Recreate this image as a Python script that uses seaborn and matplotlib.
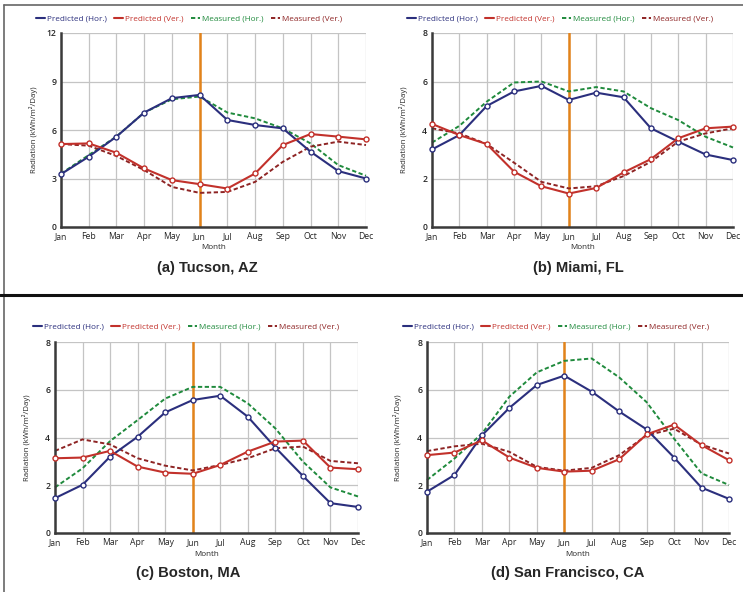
import numpy as np
import pandas as pd
import matplotlib
matplotlib.use("Agg")
import matplotlib.pyplot as plt
from matplotlib.lines import Line2D
import seaborn as sns

months = ["Jan", "Feb", "Mar", "Apr", "May", "Jun", "Jul", "Aug", "Sep", "Oct", "Nov", "Dec"]
series_names = ["Predicted (Hor.)", "Predicted (Ver.)", "Measured (Hor.)", "Measured (Ver.)"]

# (a) Tucson, AZ
tucson_pred_hor = [3.27, 4.35, 5.59, 7.08, 7.97, 8.17, 6.62, 6.31, 6.10, 4.66, 3.46, 3.00]
tucson_pred_ver = [5.13, 5.17, 4.59, 3.62, 2.90, 2.65, 2.38, 3.31, 5.07, 5.75, 5.59, 5.42]
tucson_meas_hor = [3.30, 4.45, 5.60, 7.08, 7.90, 8.07, 7.08, 6.72, 6.10, 5.17, 3.83, 3.17]
tucson_meas_ver = [5.13, 5.03, 4.39, 3.52, 2.48, 2.11, 2.17, 2.79, 4.03, 4.97, 5.28, 5.07]

# (b) Miami, FL
miami_pred_hor = [3.20, 3.79, 4.99, 5.59, 5.82, 5.24, 5.54, 5.35, 4.07, 3.52, 2.99, 2.76]
miami_pred_ver = [4.25, 3.79, 3.42, 2.28, 1.68, 1.38, 1.61, 2.25, 2.80, 3.66, 4.07, 4.14]
miami_meas_hor = [3.48, 4.17, 5.17, 5.96, 6.00, 5.59, 5.77, 5.59, 4.90, 4.41, 3.72, 3.28]
miami_meas_ver = [4.07, 3.86, 3.42, 2.65, 1.86, 1.59, 1.68, 2.10, 2.69, 3.52, 3.86, 4.07]

# (c) Boston, MA
boston_pred_hor = [1.46, 2.02, 3.20, 4.03, 5.05, 5.57, 5.75, 4.87, 3.58, 2.39, 1.25, 1.09]
boston_pred_ver = [3.13, 3.16, 3.44, 2.78, 2.53, 2.48, 2.85, 3.41, 3.83, 3.87, 2.74, 2.67]
boston_meas_hor = [1.91, 2.71, 3.85, 4.73, 5.63, 6.12, 6.12, 5.43, 4.38, 2.99, 1.91, 1.53]
boston_meas_ver = [3.44, 3.92, 3.71, 3.13, 2.82, 2.62, 2.85, 3.13, 3.55, 3.62, 3.02, 2.92]

# (d) San Francisco, CA
sf_pred_hor = [1.73, 2.43, 4.09, 5.24, 6.20, 6.59, 5.92, 5.09, 4.34, 3.16, 1.90, 1.43]
sf_pred_ver = [3.26, 3.37, 3.88, 3.16, 2.73, 2.57, 2.61, 3.09, 4.13, 4.54, 3.68, 3.05]
sf_meas_hor = [2.22, 3.12, 4.16, 5.71, 6.73, 7.21, 7.31, 6.52, 5.48, 3.95, 2.50, 2.01]
sf_meas_ver = [3.43, 3.63, 3.74, 3.40, 2.77, 2.61, 2.73, 3.26, 4.09, 4.37, 3.70, 3.33]

titles = ["(a) Tucson, AZ", "(b) Miami, FL", "(c) Boston, MA", "(d) San Francisco, CA"]
y_maxes = [12, 8, 8, 8]
y_steps = [3, 2, 2, 2]

panels = [
    [tucson_pred_hor, tucson_pred_ver, tucson_meas_hor, tucson_meas_ver],
    [miami_pred_hor, miami_pred_ver, miami_meas_hor, miami_meas_ver],
    [boston_pred_hor, boston_pred_ver, boston_meas_hor, boston_meas_ver],
    [sf_pred_hor, sf_pred_ver, sf_meas_hor, sf_meas_ver],
]

sns.set_style("white")
plt.rcParams["font.family"] = ["Open Sans", "DejaVu Sans"]

colors = ["#2b2f7d", "#c2312b", "#1f8a3c", "#8e2424"]
styles = ["-", "-", (0, (2.2, 1.3)), (0, (2.2, 1.3))]
lws = [1.5, 1.5, 1.4, 1.4]

W, H = 743, 592
fig = plt.figure(figsize=(W / 100, H / 100), dpi=100)

# axes boxes in pixels: left, right, top, bottom
boxes = [(61, 366, 33, 227), (432, 733, 33, 227), (55, 358, 342, 533), (427, 729, 342, 533)]
legend_pos = [(189, 19), (560, 19), (186, 327), (556, 327)]
ylabel_x = [33, 403, 27, 398]
month_y = [248, 248, 554, 554]
title_pos = [(207, 268), (578, 268), (188, 573), (568, 573)]

for i, (vals, box) in enumerate(zip(panels, boxes)):
    l, r, t, b = box
    ax = fig.add_axes([l / W, 1 - b / H, (r - l) / W, (b - t) / H])
    x = np.arange(len(months))
    ax.axvline(5, color="#e2831a", lw=1.8, zorder=1.5)
    for j in range(4):
        df = pd.DataFrame({"Month": x, "Radiation": vals[j]})
        kw = dict(color=colors[j], lw=lws[j], linestyle=styles[j], zorder=3 if j < 2 else 2.5)
        if j < 2:
            kw.update(marker="o", markersize=3.6, markerfacecolor="white",
                      markeredgecolor=colors[j], markeredgewidth=1.0)
        sns.lineplot(data=df, x="Month", y="Radiation", ax=ax, **kw)
        for ln in ax.lines[-1:]:
            ln.set_clip_on(False)
    ax.set_xlim(0, 11)
    ax.set_ylim(0, y_maxes[i])
    ax.set_xticks(x)
    ax.set_xticklabels(months, fontsize=6.2)
    ax.set_yticks(np.arange(0, y_maxes[i] + 0.01, y_steps[i]))
    ax.set_yticklabels([str(int(v)) for v in np.arange(0, y_maxes[i] + 0.01, y_steps[i])],
                       fontsize=6.2, fontweight="semibold")
    ax.grid(True, color="#c4c4c4", lw=0.9)
    ax.set_axisbelow(True)
    for s in ["top", "right"]:
        ax.spines[s].set_visible(False)
    for s in ["left", "bottom"]:
        ax.spines[s].set_color("#3a3a3a")
        ax.spines[s].set_linewidth(1.8)
    ax.tick_params(axis="both", length=2.5, width=0.9, color="#3a3a3a", pad=1)
    ax.set_xlabel("")
    ax.set_ylabel("")
    fig.text(ylabel_x[i] / W, 1 - ((t + b) / 2) / H, "Radiation (kWh/m²/Day)",
             rotation=90, ha="center", va="center", fontsize=5.6)
    fig.text(((l + r) / 2) / W, 1 - month_y[i] / H, "Month", ha="center", va="center", fontsize=5.8)
    fig.text(title_pos[i][0] / W, 1 - title_pos[i][1] / H, titles[i], ha="center", va="center",
             fontsize=10.6, fontweight="bold", family=["Liberation Sans", "DejaVu Sans"])
    handles = [Line2D([], [], color=colors[j], lw=lws[j], linestyle=styles[j]) for j in range(4)]
    fig.legend(handles, series_names, loc="center",
               bbox_to_anchor=(legend_pos[i][0] / W, 1 - legend_pos[i][1] / H),
               ncol=4, frameon=False, fontsize=5.9, handlelength=1.1, handletextpad=0.25,
               columnspacing=0.9, labelcolor="linecolor", borderpad=0)

# frame lines
fig.add_artist(Line2D([4 / W, 4 / W], [0, 1 - 5 / H], color="#666666", lw=1.2))
fig.add_artist(Line2D([4 / W, 1], [1 - 5 / H, 1 - 5 / H], color="#666666", lw=1.2))
fig.add_artist(Line2D([0, 1], [1 - 295 / H, 1 - 295 / H], color="#111111", lw=2.2))

fig.savefig("out.png", dpi=100)
